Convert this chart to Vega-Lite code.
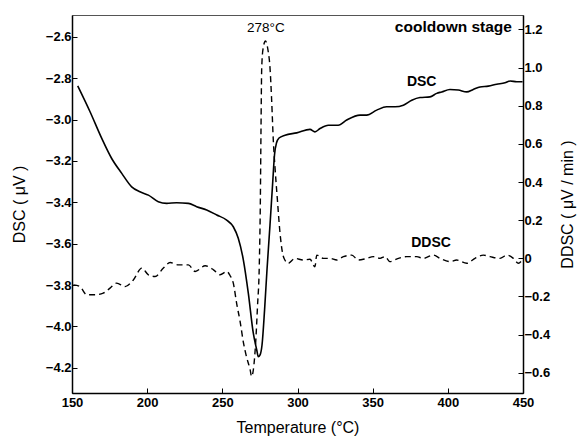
{
  "$schema": "https://vega.github.io/schema/vega-lite/v6.json",
  "width": 451,
  "height": 378,
  "autosize": "none",
  "padding": {"left": 72, "top": 15, "right": 56, "bottom": 53},
  "background": "white",
  "config": {
    "view": {"stroke": "#555", "strokeWidth": 1},
    "font": "Liberation Sans",
    "axis": {
      "grid": false,
      "domainColor": "black",
      "domainWidth": 1.5,
      "tickColor": "black",
      "tickSize": -5,
      "tickWidth": 1,
      "labelFlush": false,
      "labelFont": "Liberation Sans",
      "labelFontWeight": "bold",
      "labelFontSize": 13,
      "labelColor": "black",
      "titleFont": "Liberation Sans",
      "titleFontWeight": "normal",
      "titleFontSize": 16,
      "titleColor": "black"
    }
  },
  "datasets": {
    "dsc": [
      {"T": 153.8, "DSC": -2.837}, {"T": 162.0, "DSC": -2.962}, {"T": 169.8, "DSC": -3.091},
      {"T": 176.4, "DSC": -3.188}, {"T": 183.1, "DSC": -3.26}, {"T": 189.7, "DSC": -3.325},
      {"T": 195.2, "DSC": -3.349}, {"T": 200.8, "DSC": -3.365}, {"T": 207.4, "DSC": -3.397},
      {"T": 213.0, "DSC": -3.405}, {"T": 219.6, "DSC": -3.402}, {"T": 227.4, "DSC": -3.405},
      {"T": 232.9, "DSC": -3.421}, {"T": 239.6, "DSC": -3.437}, {"T": 246.3, "DSC": -3.461},
      {"T": 252.9, "DSC": -3.486}, {"T": 257.3, "DSC": -3.518}, {"T": 260.6, "DSC": -3.574},
      {"T": 264.0, "DSC": -3.679}, {"T": 267.3, "DSC": -3.84}, {"T": 270.6, "DSC": -4.033},
      {"T": 272.9, "DSC": -4.114}, {"T": 273.9, "DSC": -4.147}, {"T": 275.1, "DSC": -4.138},
      {"T": 276.4, "DSC": -4.09}, {"T": 278.1, "DSC": -3.92}, {"T": 279.7, "DSC": -3.727},
      {"T": 281.7, "DSC": -3.51}, {"T": 283.4, "DSC": -3.316}, {"T": 284.7, "DSC": -3.171},
      {"T": 286.0, "DSC": -3.113}, {"T": 287.7, "DSC": -3.089}, {"T": 291.7, "DSC": -3.075},
      {"T": 299.5, "DSC": -3.064}, {"T": 308.3, "DSC": -3.047}, {"T": 311.6, "DSC": -3.059},
      {"T": 315.0, "DSC": -3.043}, {"T": 320.5, "DSC": -3.027}, {"T": 327.1, "DSC": -3.027},
      {"T": 332.7, "DSC": -3.002}, {"T": 341.6, "DSC": -2.978}, {"T": 346.0, "DSC": -2.978},
      {"T": 352.7, "DSC": -2.954}, {"T": 359.3, "DSC": -2.938}, {"T": 364.9, "DSC": -2.938},
      {"T": 370.4, "DSC": -2.93}, {"T": 376.0, "DSC": -2.906}, {"T": 381.5, "DSC": -2.893},
      {"T": 388.1, "DSC": -2.89}, {"T": 392.6, "DSC": -2.873}, {"T": 395.9, "DSC": -2.866},
      {"T": 401.4, "DSC": -2.854}, {"T": 407.0, "DSC": -2.857}, {"T": 412.6, "DSC": -2.866},
      {"T": 416.9, "DSC": -2.854}, {"T": 421.4, "DSC": -2.842}, {"T": 426.9, "DSC": -2.838},
      {"T": 432.5, "DSC": -2.829}, {"T": 438.0, "DSC": -2.822}, {"T": 441.4, "DSC": -2.813},
      {"T": 445.8, "DSC": -2.817}, {"T": 449.7, "DSC": -2.817}
    ],
    "ddsc": [
      {"T": 150.9, "DDSC": -0.139}, {"T": 155.3, "DDSC": -0.148}, {"T": 159.8, "DDSC": -0.191},
      {"T": 165.3, "DDSC": -0.191}, {"T": 170.8, "DDSC": -0.182}, {"T": 175.3, "DDSC": -0.156},
      {"T": 179.7, "DDSC": -0.13}, {"T": 185.3, "DDSC": -0.148}, {"T": 190.8, "DDSC": -0.113},
      {"T": 196.4, "DDSC": -0.051}, {"T": 200.8, "DDSC": -0.086}, {"T": 205.3, "DDSC": -0.095},
      {"T": 210.8, "DDSC": -0.051}, {"T": 215.3, "DDSC": -0.022}, {"T": 220.8, "DDSC": -0.034},
      {"T": 227.4, "DDSC": -0.034}, {"T": 231.9, "DDSC": -0.069}, {"T": 238.6, "DDSC": -0.039},
      {"T": 244.1, "DDSC": -0.06}, {"T": 248.5, "DDSC": -0.086}, {"T": 253.0, "DDSC": -0.069},
      {"T": 255.1, "DDSC": -0.09}, {"T": 257.3, "DDSC": -0.13}, {"T": 259.6, "DDSC": -0.24},
      {"T": 261.8, "DDSC": -0.33}, {"T": 264.0, "DDSC": -0.44}, {"T": 266.2, "DDSC": -0.52},
      {"T": 268.4, "DDSC": -0.58}, {"T": 269.5, "DDSC": -0.62}, {"T": 270.7, "DDSC": -0.58},
      {"T": 272.1, "DDSC": -0.45}, {"T": 273.4, "DDSC": -0.25}, {"T": 274.6, "DDSC": -0.03},
      {"T": 275.3, "DDSC": 0.31}, {"T": 275.7, "DDSC": 0.66}, {"T": 276.2, "DDSC": 1.0},
      {"T": 277.1, "DDSC": 1.1}, {"T": 278.7, "DDSC": 1.14}, {"T": 280.4, "DDSC": 1.09},
      {"T": 281.7, "DDSC": 1.0}, {"T": 282.8, "DDSC": 0.83}, {"T": 283.9, "DDSC": 0.62},
      {"T": 285.0, "DDSC": 0.48}, {"T": 286.6, "DDSC": 0.31}, {"T": 288.4, "DDSC": 0.13},
      {"T": 290.0, "DDSC": 0.03}, {"T": 291.7, "DDSC": -0.01}, {"T": 293.9, "DDSC": -0.026},
      {"T": 298.3, "DDSC": 0.0}, {"T": 303.9, "DDSC": -0.009}, {"T": 308.3, "DDSC": -0.005},
      {"T": 311.6, "DDSC": -0.044}, {"T": 312.8, "DDSC": 0.017}, {"T": 317.2, "DDSC": 0.0},
      {"T": 321.6, "DDSC": 0.0}, {"T": 326.1, "DDSC": -0.009}, {"T": 330.5, "DDSC": 0.009},
      {"T": 336.1, "DDSC": 0.017}, {"T": 340.5, "DDSC": -0.009}, {"T": 346.0, "DDSC": 0.0},
      {"T": 350.4, "DDSC": 0.009}, {"T": 354.9, "DDSC": 0.0}, {"T": 358.2, "DDSC": 0.009},
      {"T": 361.5, "DDSC": -0.017}, {"T": 367.1, "DDSC": 0.0}, {"T": 372.6, "DDSC": 0.009},
      {"T": 379.3, "DDSC": 0.009}, {"T": 383.7, "DDSC": 0.0}, {"T": 390.3, "DDSC": 0.017},
      {"T": 394.8, "DDSC": 0.0}, {"T": 401.4, "DDSC": -0.017}, {"T": 405.9, "DDSC": -0.009},
      {"T": 412.6, "DDSC": -0.026}, {"T": 418.1, "DDSC": 0.0}, {"T": 423.6, "DDSC": 0.017},
      {"T": 428.1, "DDSC": 0.009}, {"T": 434.7, "DDSC": 0.0}, {"T": 439.2, "DDSC": 0.017},
      {"T": 443.6, "DDSC": 0.0}, {"T": 446.9, "DDSC": -0.026}, {"T": 449.3, "DDSC": -0.01}
    ],
    "boldLabels": [
      {"T": 403.7, "DSC": -2.552, "text": "cooldown stage"}
    ],
    "curveLabels": [
      {"T": 382.6, "DSC": -2.817, "text": "DSC"},
      {"T": 388.8, "DSC": -3.597, "text": "DDSC"}
    ],
    "peakLabels": [
      {"T": 279.0, "DSC": -2.556, "text": "278°C"}
    ]
  },
  "encoding": {
    "x": {
      "field": "T",
      "type": "quantitative",
      "scale": {"domain": [150, 450], "nice": false, "zero": false},
      "axis": {"values": [150, 200, 250, 300, 350, 400, 450], "title": "Temperature (°C)", "labelPadding": 8, "titlePadding": 10}
    }
  },
  "layer": [
    {
      "data": {"name": "dsc"},
      "mark": {"type": "line", "color": "black", "strokeWidth": 1.6, "interpolate": "monotone"},
      "encoding": {
        "y": {
          "field": "DSC",
          "type": "quantitative",
          "scale": {"domain": [-4.322, -2.494], "nice": false, "zero": false},
          "axis": {"orient": "left", "values": [-4.2, -4.0, -3.8, -3.6, -3.4, -3.2, -3.0, -2.8, -2.6], "format": ".1f", "title": "DSC ( μV )", "labelPadding": 6, "titlePadding": 18}
        }
      }
    },
    {
      "data": {"name": "ddsc"},
      "mark": {"type": "line", "color": "black", "strokeWidth": 1.4, "strokeDash": [6, 4], "interpolate": "monotone"},
      "encoding": {
        "y": {
          "field": "DDSC",
          "type": "quantitative",
          "scale": {"domain": [-0.706, 1.276], "nice": false, "zero": false},
          "axis": {"orient": "right", "values": [-0.6, -0.4, -0.2, 0, 0.2, 0.4, 0.6, 0.8, 1.0, 1.2], "labelExpr": "datum.value == 0 ? '0' : format(datum.value, '.1f')", "title": "DDSC ( μV / min )", "titleAngle": 270, "labelPadding": 6, "titlePadding": 26}
        }
      }
    },
    {
      "data": {"name": "boldLabels"},
      "mark": {"type": "text", "color": "black", "font": "Liberation Sans", "fontSize": 15.5, "fontWeight": "bold", "baseline": "middle", "align": "center"},
      "encoding": {
        "y": {"field": "DSC", "type": "quantitative", "scale": {"domain": [-4.322, -2.494], "nice": false, "zero": false}, "axis": null},
        "text": {"field": "text"}
      }
    },
    {
      "data": {"name": "curveLabels"},
      "mark": {"type": "text", "color": "black", "font": "Liberation Sans", "fontSize": 14, "fontWeight": "bold", "baseline": "middle", "align": "center"},
      "encoding": {
        "y": {"field": "DSC", "type": "quantitative", "scale": {"domain": [-4.322, -2.494], "nice": false, "zero": false}, "axis": null},
        "text": {"field": "text"}
      }
    },
    {
      "data": {"name": "peakLabels"},
      "mark": {"type": "text", "color": "black", "font": "Liberation Sans", "fontSize": 13.5, "baseline": "middle", "align": "center"},
      "encoding": {
        "y": {"field": "DSC", "type": "quantitative", "scale": {"domain": [-4.322, -2.494], "nice": false, "zero": false}, "axis": null},
        "text": {"field": "text"}
      }
    }
  ],
  "resolve": {"scale": {"y": "independent"}}
}
